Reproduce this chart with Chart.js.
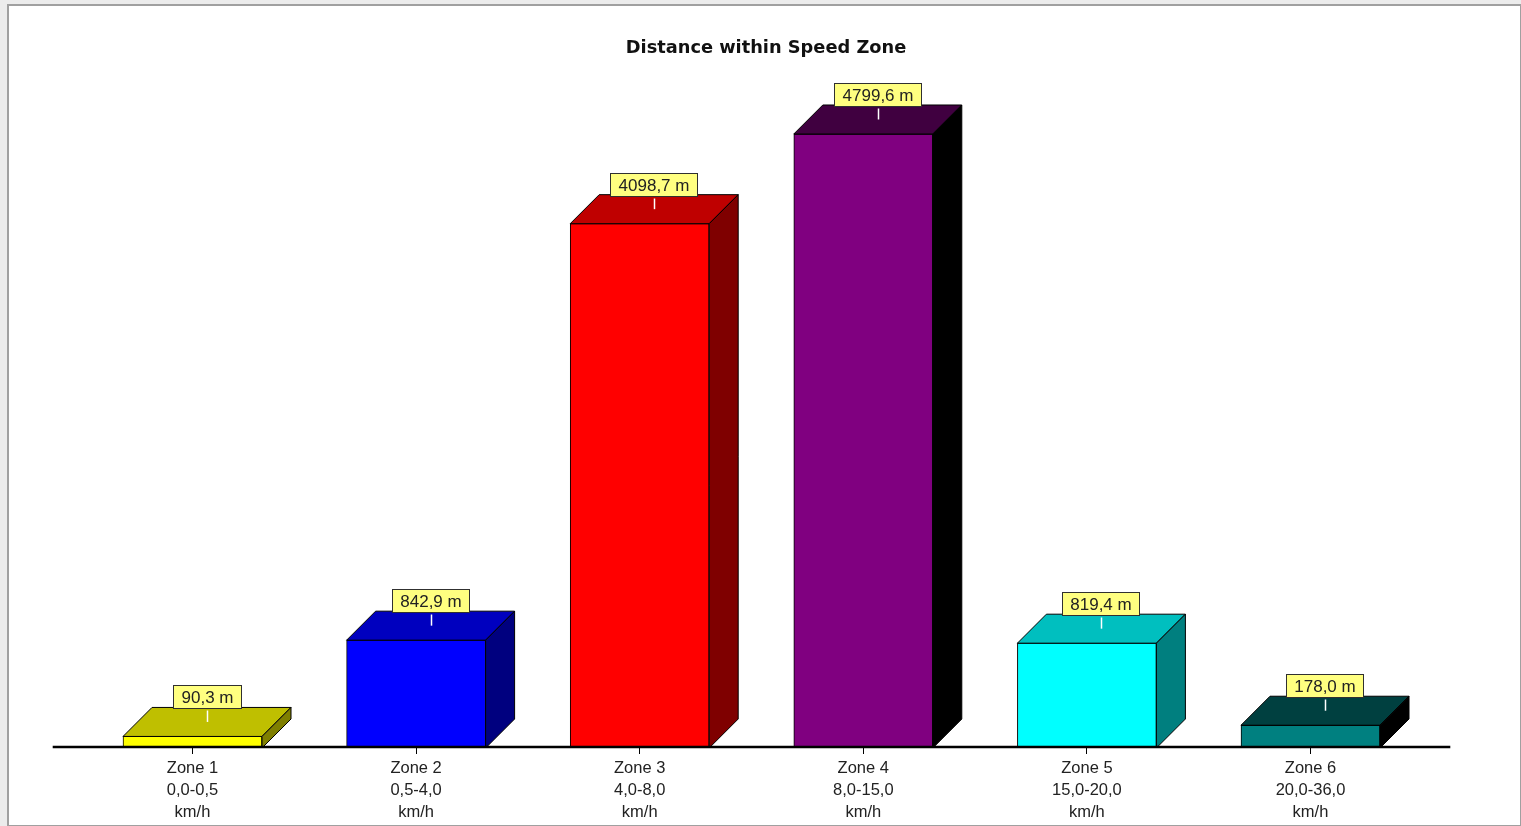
<!DOCTYPE html>
<html>
<head>
<meta charset="utf-8">
<title>Distance within Speed Zone</title>
<script src="https://cdn.jsdelivr.net/npm/chart.js@4/dist/chart.umd.min.js"></script>
<style>
  html, body { margin: 0; padding: 0; width: 1521px; height: 826px; overflow: hidden; background: #ececec; }
  #frame { position: absolute; left: 7px; top: 4px; width: 1514px; height: 822px; box-sizing: border-box;
           background: #ffffff; border: 1px solid #a0a0a0; border-left-width: 2px; border-top-width: 2px; }
  #chart { position: absolute; left: 0; top: 0; }
</style>
</head>
<body>
<div id="frame"></div>
<canvas id="chart" width="1521" height="826"></canvas>
<script>
// Speed zones and the distance covered in each
const zoneNames   = ['Zone 1', 'Zone 2', 'Zone 3', 'Zone 4', 'Zone 5', 'Zone 6'];
const speedRanges = ['0,0-0,5', '0,5-4,0', '4,0-8,0', '8,0-15,0', '15,0-20,0', '20,0-36,0'];
const speedUnit   = 'km/h';
const distances   = [90.3, 842.9, 4098.7, 4799.6, 819.4, 178.0];
const zoneColors  = ['#ffff00', '#0000ff', '#ff0000', '#800080', '#00ffff', '#008080'];

const DEPTH = 29;            // 3D extrusion offset in px
const LABEL_FONT = '17px "Liberation Sans", Arial, sans-serif';

// darken a #rrggbb colour by subtracting a fixed amount from each channel
function shade(hex, amount) {
  const n = parseInt(hex.slice(1), 16);
  const ch = [(n >> 16) & 255, (n >> 8) & 255, n & 255].map(v => Math.max(0, v - amount));
  return '#' + ch.map(v => v.toString(16).padStart(2, '0')).join('');
}

function formatDistance(v) {
  return v.toFixed(1).replace('.', ',') + ' m';
}

function polygon(ctx, pts, fill) {
  ctx.beginPath();
  ctx.moveTo(pts[0][0], pts[0][1]);
  for (let k = 1; k < pts.length; k++) ctx.lineTo(pts[k][0], pts[k][1]);
  ctx.closePath();
  ctx.fillStyle = fill;
  ctx.fill();
  ctx.strokeStyle = '#000';
  ctx.lineWidth = 1;
  ctx.stroke();
}

// Adds top and side faces to each bar, the extended base line and value boxes
const bar3d = {
  id: 'bar3d',
  afterDatasetsDraw(chart) {
    const ctx = chart.ctx;
    const area = chart.chartArea;
    const meta = chart.getDatasetMeta(0);
    const ds = chart.data.datasets[0];
    ctx.save();

    meta.data.forEach((bar, i) => {
      const p = bar.getProps(['x', 'y', 'base', 'width'], true);
      const l = p.x - p.width / 2, r = p.x + p.width / 2, t = p.y, b = p.base;
      const c = ds.backgroundColor[i];
      polygon(ctx, [[l, t], [l + DEPTH, t - DEPTH], [r + DEPTH, t - DEPTH], [r, t]], shade(c, 0x40));
      polygon(ctx, [[r, t], [r + DEPTH, t - DEPTH], [r + DEPTH, b - DEPTH], [r, b]], shade(c, 0x80));
    });

    // base line running under the bars and past their depth
    ctx.beginPath();
    ctx.strokeStyle = '#000';
    ctx.lineWidth = 2.5;
    ctx.moveTo(area.left - DEPTH + 1, area.bottom - 1);
    ctx.lineTo(area.right + DEPTH - 1, area.bottom - 1);
    ctx.stroke();

    // value boxes above each top face
    ctx.font = LABEL_FONT;
    ctx.textAlign = 'center';
    ctx.textBaseline = 'middle';
    meta.data.forEach((bar, i) => {
      const p = bar.getProps(['x', 'y'], true);
      const cx = Math.round(p.x + DEPTH / 2) + 0.5;
      const text = formatDistance(ds.data[i]);
      const w = Math.round(ctx.measureText(text).width + 16);
      const h = 23;
      const bottom = Math.round(p.y - DEPTH + 1) + 0.5;
      const top = bottom - h;
      const left = Math.round(cx - w / 2 - 1) + 0.5;

      ctx.beginPath();
      ctx.strokeStyle = '#ffffff';
      ctx.lineWidth = 1.5;
      ctx.moveTo(cx, bottom + 2);
      ctx.lineTo(cx, p.y - DEPTH / 2);
      ctx.stroke();

      ctx.fillStyle = '#ffff80';
      ctx.fillRect(left, top, w, h);
      ctx.strokeStyle = '#303030';
      ctx.lineWidth = 1;
      ctx.strokeRect(left, top, w, h);

      ctx.fillStyle = '#222';
      ctx.fillText(text, left + w / 2, top + h / 2 + 1);
    });

    ctx.restore();
  }
};

const labels = zoneNames.map((z, i) => [z, speedRanges[i], speedUnit]);

// invisible side axes that only reserve horizontal space around the plot
function spacerAxis(position, width) {
  return {
    type: 'linear',
    position: position,
    display: true,
    grid: { display: false },
    border: { display: false },
    ticks: { display: false },
    afterFit(scale) { scale.width = width; }
  };
}

new Chart(document.getElementById('chart'), {
  type: 'bar',
  data: {
    labels: labels,
    datasets: [{
      data: distances,
      backgroundColor: zoneColors,
      borderColor: '#000',
      borderWidth: 1,
      barThickness: 139,
      yAxisID: 'y'
    }]
  },
  plugins: [bar3d],
  options: {
    responsive: false,
    animation: false,
    devicePixelRatio: 1,
    layout: { padding: { left: 11, right: 0, top: 0, bottom: 0 } },
    plugins: {
      legend: { display: false },
      tooltip: { enabled: false },
      title: {
        display: true,
        text: 'Distance within Speed Zone',
        color: '#111',
        font: { family: '"DejaVu Sans", Verdana, sans-serif', weight: 'bold', size: 17.8, lineHeight: 1.2 },
        padding: { top: 38, bottom: 49 }
      }
    },
    scales: {
      x: {
        afterFit(scale) { scale.height = 78; },
        grid: { display: true, drawOnChartArea: false, drawTicks: true, tickLength: 6, color: '#000', offset: false },
        border: { display: false },
        ticks: {
          padding: 3,
          color: '#222',
          font: { family: '"Liberation Sans", Arial, sans-serif', size: 16.5, lineHeight: '22px' },
          maxRotation: 0
        }
      },
      y: Object.assign(spacerAxis('left', 69.7), { min: 0, max: 5000 }),
      yRight: spacerAxis('right', 98.7)
    }
  }
});
</script>
</body>
</html>
